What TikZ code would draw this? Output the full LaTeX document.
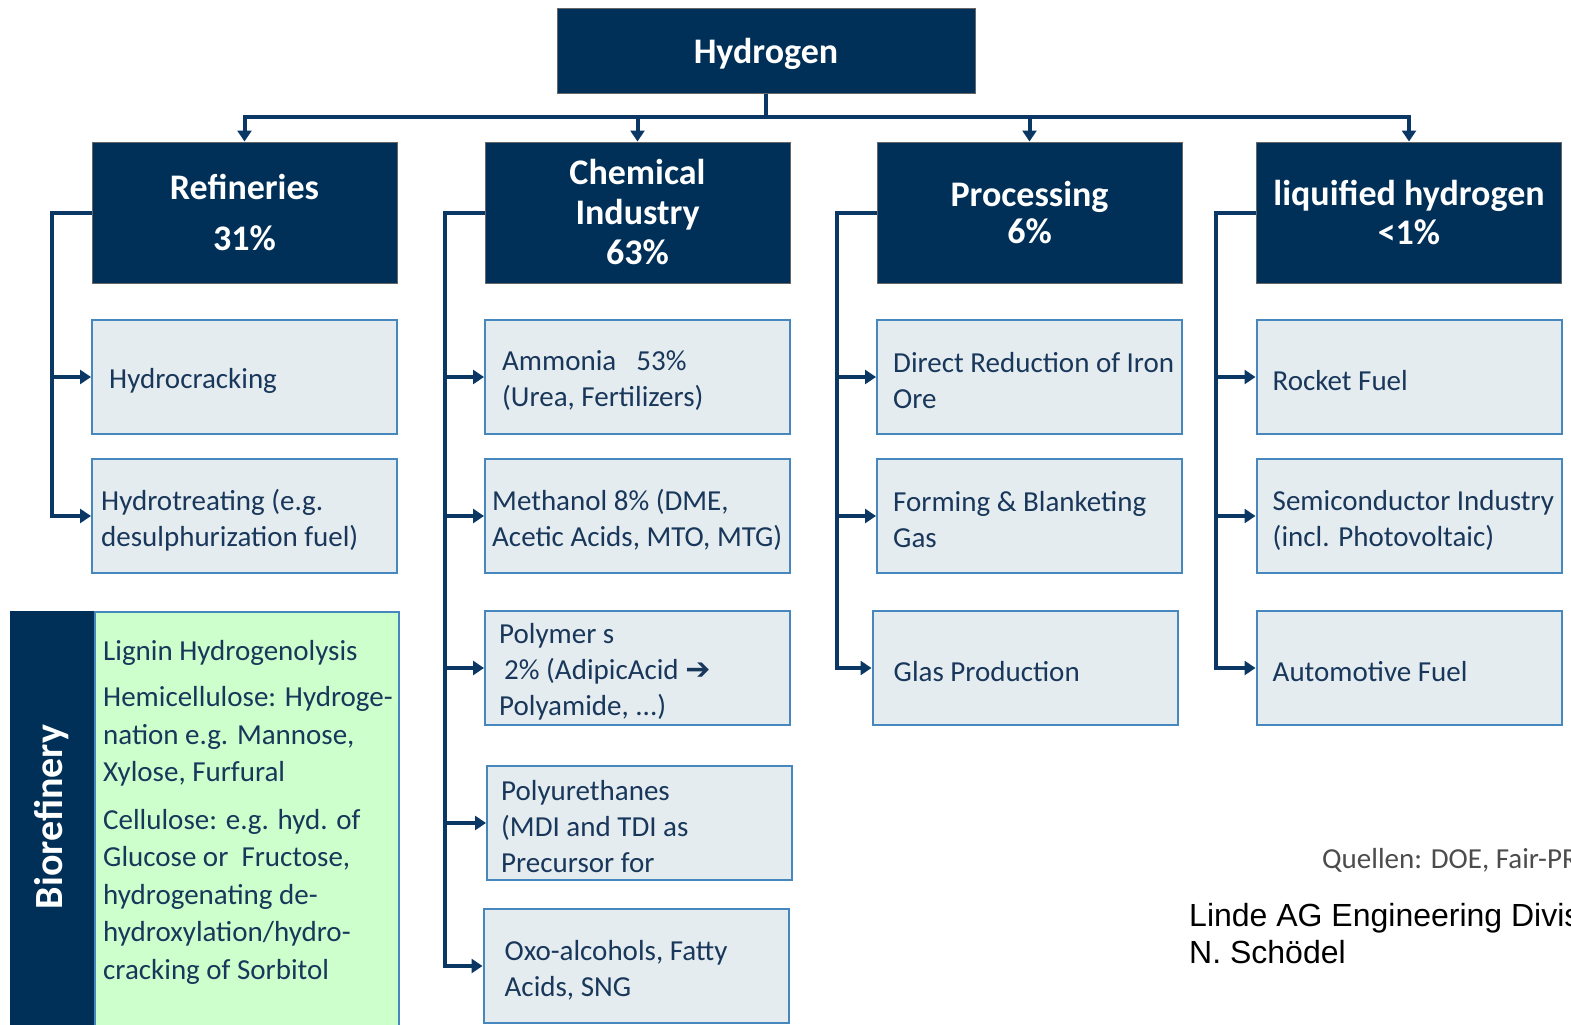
\documentclass[tikz,border=0pt]{standalone}
\usepackage{fontspec}
\setmainfont{Carlito}
\newfontfamily\arialfont{Liberation Sans}
\newfontfamily\dejavu{DejaVu Sans}
\usetikzlibrary{arrows.meta}
\definecolor{navy}{RGB}{0,48,88}
\definecolor{linecol}{RGB}{10,55,100}
\definecolor{childfill}{RGB}{228,236,240}
\definecolor{childborder}{RGB}{70,135,190}
\definecolor{txtcol}{RGB}{25,55,90}
\definecolor{biogreen}{RGB}{204,255,204}
\begin{document}
\begin{tikzpicture}[x=1pt,y=-1pt,
 header/.style={rectangle, fill=navy, draw=black!60, line width=1pt, minimum width=305pt, minimum height=141pt, text=white, font=\fontsize{36}{40}\selectfont\bfseries, align=center, inner sep=0pt},
 childbox/.style={rectangle, fill=childfill, draw=childborder, line width=2pt, minimum width=305pt, minimum height=114pt, inner sep=0pt},
 childtext/.style={anchor=west, text=txtcol, font=\fontsize{29}{36}\selectfont, align=left, inner sep=0pt, yshift=-4pt},
 conn/.style={draw=linecol, line width=4pt},
 arr/.style={conn, -{Triangle[length=11pt,width=14pt]}},
]
\useasboundingbox (0,0) rectangle (1571,1025);
\clip (0,0) rectangle (1571,1025);

% top
\node[header, minimum width=418pt, minimum height=84pt] (hyd) at (766,51) {\raisebox{-3pt}[\height][\depth]{Hydrogen}};
\node[header] (ref) at (244.5,212.5) {Refineries\\[11pt]31\%};
\node[header] (chem) at (637.5,212.5) {Chemical\\Industry\\63\%};
\node[header] (proc) at (1029.5,212.5) {Processing\\[-3pt]6\%};
\node[header] (liq) at (1409,212.5) {liquified hydrogen\\[-1pt]<1\%};

\coordinate (bus) at (766,117);
\draw[conn] (hyd.south) -- (bus);
\foreach \n in {ref,chem,proc,liq}{
  \draw[arr] (bus) -| (\n.north);
}

% refineries
\node[childbox] (hc) at (244.5,377) {};
\node[childtext] (hct) at ([xshift=18pt]hc.west) {Hydrocracking};
\node[childbox] (ht) at (244.5,516) {};
\node[childtext] (htt) at ([xshift=10pt]ht.west) {Hydrotreating (e.g.\\desulphurization fuel)};

% chemical
\node[childbox] (am) at (637.5,377) {};
\node[childtext] (amt) at ([xshift=18pt]am.west) {Ammonia\hspace{20pt}53\%\\(Urea, Fertilizers)};
\node[childbox] (me) at (637.5,516) {};
\node[childtext] (met) at ([xshift=8pt]me.west) {Methanol 8\% (DME,\\Acetic Acids, MTO, MTG)};
\node[childbox] (po) at (637.5,668) {};
\node[childtext] (pot) at ([xshift=15pt]po.west) {Polymer s\\\hspace*{5pt}2\% (AdipicAcid {\dejavu\bfseries\fontsize{30}{30}\selectfont ➔}\\Polyamide, ...)};
\node[childbox] (pu) at (639.5,823) {};
\node[childtext] (put) at ([xshift=15pt]pu.west) {Polyurethanes\\(MDI and TDI as\\Precursor for};
\node[childbox] (ox) at (636,966) {};
\node[childtext] (oxt) at ([xshift=22pt]ox.west) {Oxo-alcohols, Fatty\\Acids, SNG};

% processing
\node[childbox] (dr) at (1029.5,377) {};
\node[childtext] (drt) at ([xshift=17pt]dr.west) {Direct Reduction of Iron\\Ore};
\node[childbox] (fb) at (1029.5,516) {};
\node[childtext] (fbt) at ([xshift=17pt]fb.west) {Forming \& Blanketing\\Gas};
\node[childbox] (gl) at (1025,668) {};
\node[childtext] (glt) at ([xshift=22pt]gl.west) {Glas Production};

% liquified
\node[childbox] (rf) at (1409,377) {};
\node[childtext] (rft) at ([xshift=17pt]rf.west) {Rocket Fuel};
\node[childbox] (sc) at (1409,516) {};
\node[childtext] (sct) at ([xshift=17pt]sc.west) {Semiconductor Industry\\(incl. Photovoltaic)};
\node[childbox] (af) at (1409,668) {};
\node[childtext] (aft) at ([xshift=17pt]af.west) {Automotive Fuel};

% spines
\foreach \h/\kids in {ref/{hc,ht}, chem/{am,me,po,pu,ox}, proc/{dr,fb,gl}, liq/{rf,sc,af}}{
  \foreach \k in \kids {
    \draw[arr] (\h.west) -- ++(-40,0) |- (\k.west);
  }
}

% biorefinery
\node[rectangle, fill=navy, minimum width=84pt, minimum height=420pt, inner sep=0pt, anchor=north west] (bio) at (10,611) {};
\node[rotate=90, text=white, font=\fontsize{40}{44}\selectfont\bfseries, inner sep=0pt] (biot) at (52,817) {Biorefinery};
\node[rectangle, fill=biogreen, draw=childborder, line width=1.5pt, minimum width=304pt, minimum height=420pt, inner sep=0pt, anchor=north west] (biog) at (94,611) {};
\node[anchor=north west, text=txtcol, font=\fontsize{29}{37.5}\selectfont, align=left, inner sep=0pt] (biogt) at (103,640) {Lignin Hydrogenolysis\\[9pt]Hemicellulose: Hydroge-\\nation e.g. Mannose,\\Xylose, Furfural\\[10pt]Cellulose: e.g. hyd. of\\Glucose or\ \ Fructose,\\hydrogenating de-\\hydroxylation/hydro-\\cracking of Sorbitol};

% sources
\node[anchor=base west, text=black!70, font=\fontsize{29}{34}\selectfont, inner sep=0pt] (src) at (1322,868) {Quellen: DOE, Fair-PR};
\node[anchor=north west, font=\arialfont\fontsize{32}{37}\selectfont, align=left, inner sep=0pt] (linde) at (1189,903) {Linde AG Engineering Division\\N. Schödel};
\end{tikzpicture}
\end{document}
